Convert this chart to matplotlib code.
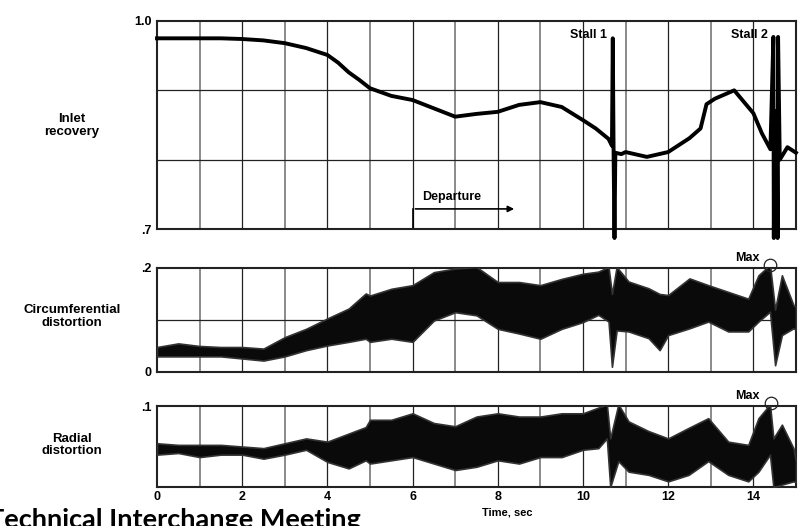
import matplotlib
matplotlib.use("Agg")
import matplotlib.pyplot as plt

plt.rcParams['font.family'] = ['Liberation Sans', 'DejaVu Sans']
plt.rcParams['font.weight'] = 'bold'

# inlet recovery trace (incl. the two stall spikes)
rec_t = [0, 0.5, 1, 1.5, 2, 2.5, 3, 3.5, 4, 4.25, 4.5, 4.75, 5, 5.5, 6, 6.5, 7, 7.5,
         8, 8.5, 9, 9.5, 10, 10.3, 10.6, 10.68, 10.70, 10.72, 10.74, 10.76, 10.9, 11,
         11.5, 12, 12.5, 12.76, 12.9, 13.1, 13.55, 14, 14.2, 14.4, 14.47, 14.48, 14.50,
         14.53, 14.55, 14.57, 14.58, 14.62, 14.8, 15]
rec_v = [0.975, 0.975, 0.975, 0.975, 0.974, 0.972, 0.968, 0.961, 0.951, 0.940, 0.926,
         0.915, 0.903, 0.892, 0.886, 0.874, 0.862, 0.866, 0.869, 0.879, 0.883, 0.876,
         0.857, 0.845, 0.830, 0.820, 0.975, 0.800, 0.687, 0.810, 0.808, 0.811, 0.804,
         0.811, 0.831, 0.845, 0.880, 0.888, 0.900, 0.867, 0.838, 0.815, 0.977, 0.687,
         0.870, 0.740, 0.870, 0.687, 0.977, 0.800, 0.818, 0.810]

# circumferential distortion band (lower / upper envelope)
circ_t = [0, 0.5, 1, 1.5, 2, 2.5, 3, 3.5, 4, 4.5, 4.9, 5, 5.5, 6, 6.5, 7, 7.5, 8, 8.5,
          9, 9.5, 10, 10.36, 10.6, 10.68, 10.79, 11.07, 11.54, 11.8, 12.0, 12.5, 12.94,
          13.41, 13.88, 14.12, 14.39, 14.51, 14.67, 14.94, 15]
circ_lo = [0.030, 0.030, 0.030, 0.030, 0.026, 0.022, 0.030, 0.042, 0.051, 0.058, 0.064,
           0.058, 0.064, 0.058, 0.099, 0.115, 0.109, 0.083, 0.074, 0.064, 0.083, 0.096,
           0.110, 0.097, 0.010, 0.080, 0.078, 0.065, 0.042, 0.071, 0.084, 0.097, 0.078,
           0.078, 0.097, 0.116, 0.013, 0.071, 0.084, 0.081]
circ_hi = [0.048, 0.055, 0.050, 0.048, 0.048, 0.045, 0.067, 0.083, 0.103, 0.122, 0.151,
           0.147, 0.160, 0.167, 0.192, 0.199, 0.202, 0.173, 0.173, 0.167, 0.179, 0.189,
           0.193, 0.202, 0.150, 0.202, 0.174, 0.161, 0.150, 0.148, 0.180, 0.167, 0.154,
           0.141, 0.186, 0.206, 0.120, 0.186, 0.129, 0.125]

# radial distortion band
rad_t = [0, 0.5, 1, 1.5, 2, 2.5, 3, 3.5, 4, 4.5, 4.9, 5, 5.5, 6, 6.5, 7, 7.5, 8, 8.5,
         9, 9.5, 10, 10.36, 10.56, 10.64, 10.83, 11.07, 11.54, 12.0, 12.48, 12.94, 13.41,
         13.88, 14.12, 14.39, 14.47, 14.67, 14.94, 15]
rad_lo = [0.040, 0.042, 0.037, 0.040, 0.040, 0.035, 0.040, 0.046, 0.031, 0.023, 0.033,
          0.029, 0.033, 0.037, 0.029, 0.021, 0.025, 0.033, 0.029, 0.037, 0.037, 0.046,
          0.048, 0.060, 0.000, 0.032, 0.019, 0.015, 0.007, 0.015, 0.032, 0.015, 0.007,
          0.019, 0.040, 0.000, 0.003, 0.007, 0.006]
rad_hi = [0.054, 0.052, 0.052, 0.052, 0.050, 0.048, 0.054, 0.060, 0.056, 0.066, 0.074,
          0.083, 0.083, 0.091, 0.079, 0.075, 0.087, 0.091, 0.087, 0.087, 0.091, 0.091,
          0.098, 0.102, 0.060, 0.102, 0.081, 0.069, 0.060, 0.073, 0.085, 0.056, 0.052,
          0.085, 0.102, 0.060, 0.077, 0.048, 0.031]

xticks = [0, 2, 4, 6, 8, 10, 12, 14]

fig = plt.figure(figsize=(8.08, 5.26), dpi=100)
ax1 = fig.add_axes([0.1943, 0.5646, 0.7908, 0.3955])
ax2 = fig.add_axes([0.1943, 0.2928, 0.7908, 0.1977])
ax3 = fig.add_axes([0.1943, 0.0741, 0.7908, 0.1540])

for ax in (ax1, ax2, ax3):
    ax.set_xlim(0, 15)
    for s in ax.spines.values():
        s.set_linewidth(1.5)
        s.set_color('#222222')
    for k in range(1, 15):
        if k % 2:
            ax.axvline(k, color='#8a8a8a', lw=1.4, zorder=1)
        else:
            ax.axvline(k, color='#222222', lw=0.9, zorder=1)
    ax.tick_params(length=0, labelsize=9, pad=4)
    ax.set_xticks([])

ax1.set_ylim(0.7, 1.0)
ax1.set_yticks([0.7, 1.0], ['.7', '1.0'])
for yv in (0.8, 0.9):
    ax1.axhline(yv, color='#222222', lw=0.9, zorder=1)
ax1.plot(rec_t, rec_v, color='black', lw=2.8, clip_on=False, zorder=3)

ax2.set_ylim(0, 0.2)
ax2.set_yticks([0, 0.2], ['0', '.2'])
ax2.axhline(0.1, color='#222222', lw=0.9, zorder=1)
ax2.fill_between(circ_t, circ_lo, circ_hi, color='#0a0a0a', lw=1.2, edgecolor='#333333', zorder=3)

ax3.set_ylim(0, 0.1)
ax3.set_yticks([0.1], ['.1'])
ax3.fill_between(rad_t, rad_lo, rad_hi, color='#0a0a0a', lw=1.2, edgecolor='#333333', zorder=3)
ax3.set_xticks(xticks, [str(v) for v in xticks])
ax3.tick_params(axis='x', pad=3)

# annotations
ax1.text(10.56, 0.98, 'Stall 1', ha='right', va='center', fontsize=9)
ax1.text(14.34, 0.98, 'Stall 2', ha='right', va='center', fontsize=9)
ax1.plot([6, 6], [0.7, 0.729], color='black', lw=1.2)
ax1.annotate('', xy=(8.45, 0.729), xytext=(6, 0.729),
             arrowprops=dict(arrowstyle='-|>', color='black', lw=1.2, mutation_scale=9))
ax1.text(6.22, 0.746, 'Departure', ha='left', va='center', fontsize=9)

ax2.plot([14.39], [0.206], 'o', mfc='none', mec='#222222', ms=9, mew=0.9, clip_on=False, zorder=5)
ax2.text(14.15, 0.219, 'Max', ha='right', va='center', fontsize=9)
ax3.plot([14.41], [0.104], 'o', mfc='none', mec='#222222', ms=9, mew=0.9, clip_on=False, zorder=5)
ax3.text(14.15, 0.112, 'Max', ha='right', va='center', fontsize=9)

fig.text(0.089, 0.762, 'Inlet\nrecovery', ha='center', va='center', fontsize=9.5, linespacing=1.1)
fig.text(0.089, 0.399, 'Circumferential\ndistortion', ha='center', va='center', fontsize=9.5, linespacing=1.1)
fig.text(0.089, 0.154, 'Radial\ndistortion', ha='center', va='center', fontsize=9.5, linespacing=1.1)
fig.text(0.6275, 0.025, 'Time, sec', ha='center', va='center', fontsize=8)

# slide footer, clipped at the left edge as in the source image
fig.text(-0.015, -0.004, 'Technical Interchange Meeting', ha='left', va='baseline',
         fontsize=19.5, family=['Lato', 'DejaVu Sans'], fontweight='bold')

fig.savefig('out.png', dpi=100)
